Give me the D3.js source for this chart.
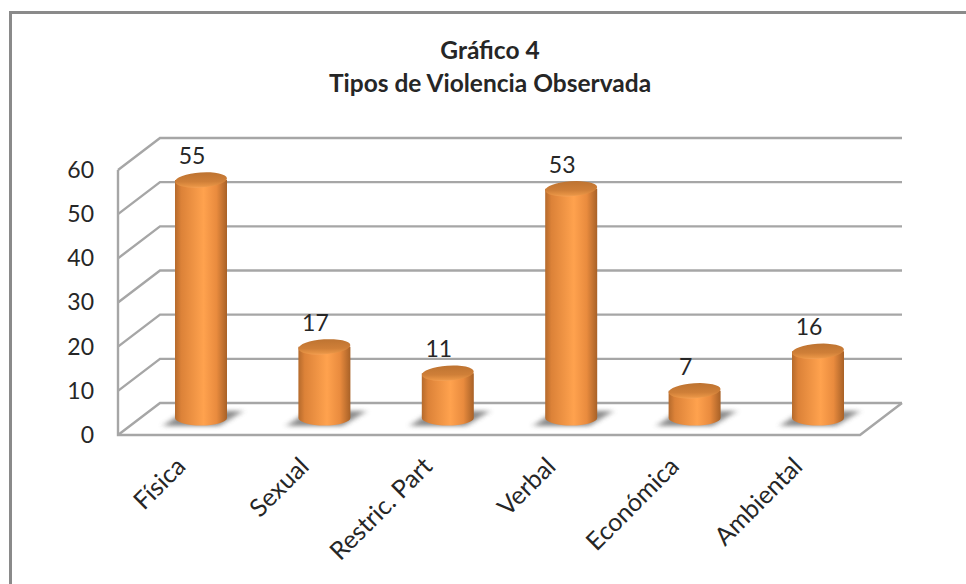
<!DOCTYPE html>
<html>
<head>
<meta charset="utf-8">
<script src="https://cdn.jsdelivr.net/npm/d3@7"></script>
<style>
  html, body { margin: 0; padding: 0; background: #ffffff; overflow: hidden; }
  text { font-family: Lato, "Open Sans", sans-serif; fill: #262626; }
</style>
</head>
<body>
<script>
// Datos del gráfico.
const categorias = ["Física", "Sexual", "Restric. Part", "Verbal", "Económica", "Ambiental"];
const valores = [55, 17, 11, 53, 7, 16];
const ticksY = [0, 10, 20, 30, 40, 50, 60];
const titulo = ["Gráfico 4", "Tipos de Violencia Observada"];

// Constantes de la visualización.
const WIDTH = 966;
const HEIGHT = 584;
const FRENTE = { left: 118, right: 860, bottom: 435, top: 170 };
const FONDO = { dx: 42, dy: -32 };
const BARRA = { rx: 26, ry: 7.5, base: 418 };

const svg = d3.select("body")
  .append("svg")
  .attr("width", WIDTH)
  .attr("height", HEIGHT)
  .style("display", "block");

const defs = svg.append("defs");

// Degradado del cilindro, oscuro en los bordes.
const gradCuerpo = defs.append("linearGradient").attr("id", "cuerpo");
[[0, "#b56a2c"], [0.12, "#dc8238"], [0.55, "#ffa24e"], [0.8, "#e98b3e"], [1, "#a86127"]]
  .forEach(([o, c]) => gradCuerpo.append("stop").attr("offset", o).attr("stop-color", c));

const gradTapa = defs.append("linearGradient")
  .attr("id", "tapa")
  .attr("x1", 0.6).attr("y1", 0)
  .attr("x2", 0.4).attr("y2", 1);
[[0, "#bd7331"], [0.6, "#cf7f38"], [0.9, "#e89445"], [1, "#f5a257"]]
  .forEach(([o, c]) => gradTapa.append("stop").attr("offset", o).attr("stop-color", c));

defs.append("filter").attr("id", "difuso")
  .attr("x", "-30%").attr("y", "-60%").attr("width", "160%").attr("height", "220%")
  .append("feGaussianBlur").attr("stdDeviation", "3 2");

// Marco del gráfico.
svg.append("path")
  .attr("d", `M10.5,${HEIGHT} V12.5 H${WIDTH}`)
  .attr("fill", "none")
  .attr("stroke", "#8a8a8a")
  .attr("stroke-width", 3);

// Título.
svg.append("text")
  .attr("x", 490)
  .attr("y", 59)
  .attr("text-anchor", "middle")
  .attr("font-size", 24.5)
  .attr("font-weight", 700)
  .text(titulo[0]);
svg.append("text")
  .attr("x", 490)
  .attr("y", 92)
  .attr("text-anchor", "middle")
  .attr("font-size", 24.5)
  .attr("font-weight", 700)
  .text(titulo[1]);

// Escalas.
const escalaY = d3.scaleLinear().domain([0, 60]).range([FRENTE.bottom, FRENTE.top]);
const escalaBarra = d3.scaleLinear().domain([0, 60]).range([421.5, 158]);
const escalaX = d3.scaleBand().domain(categorias).range([139.3, 879.7]);
const centro = (d) => escalaX(d) + escalaX.bandwidth() / 2;

// Paredes y grilla.
const grilla = svg.append("g")
  .attr("fill", "none")
  .attr("stroke", "#a6a6a6")
  .attr("stroke-width", 2.4);

grilla.selectAll("path.pared")
  .data(ticksY)
  .join("path")
  .attr("class", "pared")
  .attr("d", (t) => `M${FRENTE.left},${escalaY(t)} L${FRENTE.left + FONDO.dx},${escalaY(t) + FONDO.dy} H${FRENTE.right + FONDO.dx}`);

grilla.append("path")
  .attr("d", `M${FRENTE.left},${FRENTE.top} V${FRENTE.bottom} H${FRENTE.right} L${FRENTE.right + FONDO.dx},${FRENTE.bottom + FONDO.dy}`);

// Eje Y.
const ejeY = d3.axisLeft(escalaY).tickValues(ticksY).tickSize(0).tickPadding(24);
svg.append("g")
  .attr("transform", `translate(${FRENTE.left}, 0)`)
  .call(ejeY)
  .call((g) => g.select(".domain").remove())
  .selectAll("text")
  .attr("font-size", 23)
  .style("font-family", "Lato, sans-serif");

// Eje X con etiquetas rotadas.
const ejeX = d3.axisBottom(escalaX).tickSize(0).tickPadding(0);
svg.append("g")
  .attr("transform", `translate(0, ${FRENTE.bottom})`)
  .call(ejeX)
  .call((g) => g.select(".domain").remove())
  .selectAll("text")
  .attr("font-size", 25)
  .attr("text-anchor", "end")
  .attr("dy", 0)
  .attr("transform", "translate(-14, 33) rotate(-45)")
  .style("font-family", "Lato, sans-serif");

const barras = svg.append("g")
  .selectAll("g")
  .data(categorias.map((c, i) => ({ categoria: c, valor: valores[i] })))
  .join("g");

// Sombras en el piso, inclinadas como el piso.
barras.append("path")
  .attr("fill", "#6d6d6d")
  .attr("opacity", 0.8)
  .attr("filter", "url(#difuso)")
  .attr("d", (d) => {
    const cx = centro(d.categoria);
    return `M${cx - 38},${BARRA.base + 8} L${cx + 18},${BARRA.base + 8} L${cx + 42},${BARRA.base - 7} L${cx - 16},${BARRA.base - 7} Z`;
  });

// Cuerpo del cilindro.
barras.append("path")
  .attr("fill", "url(#cuerpo)")
  .attr("d", (d) => {
    const cx = centro(d.categoria);
    return `M${cx - BARRA.rx},${escalaBarra(d.valor)} V${BARRA.base} ` +
      `A${BARRA.rx},${BARRA.ry} 0 0 0 ${cx + BARRA.rx},${BARRA.base} V${escalaBarra(d.valor)} Z`;
  });

// Tapa del cilindro, apenas inclinada.
barras.append("ellipse")
  .attr("cx", (d) => centro(d.categoria))
  .attr("cy", (d) => escalaBarra(d.valor))
  .attr("rx", BARRA.rx)
  .attr("ry", BARRA.ry)
  .attr("fill", "url(#tapa)")
  .attr("transform", (d) => `rotate(-4 ${centro(d.categoria)} ${escalaBarra(d.valor)})`);

// Etiquetas de valor.
barras.append("text")
  .attr("x", (d) => centro(d.categoria) - 9)
  .attr("y", (d) => escalaBarra(d.valor) - 16)
  .attr("text-anchor", "middle")
  .attr("font-size", 23)
  .text((d) => d.valor);
</script>
</body>
</html>
